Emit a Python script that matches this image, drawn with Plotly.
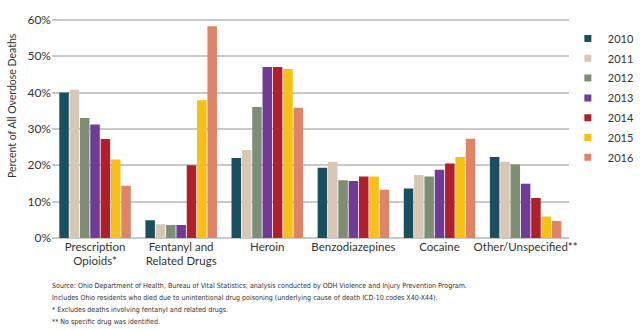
import plotly.graph_objects as go

categories = ["Prescription<br>Opioids*", "Fentanyl and<br>Related Drugs", "Heroin",
              "Benzodiazepines", "Cocaine", "Other/Unspecified**"]
years = ["2010", "2011", "2012", "2013", "2014", "2015", "2016"]
values = {
    "2010": [40.0, 4.9, 22.0, 19.3, 13.6, 22.3],
    "2011": [40.8, 3.8, 24.2, 20.9, 17.3, 21.0],
    "2012": [33.0, 3.6, 36.0, 15.9, 16.9, 20.2],
    "2013": [31.2, 3.6, 47.0, 15.7, 18.8, 14.9],
    "2014": [27.2, 20.0, 47.0, 16.9, 20.5, 11.0],
    "2015": [21.6, 37.9, 46.5, 16.9, 22.3, 5.9],
    "2016": [14.4, 58.2, 35.8, 13.3, 27.3, 4.7],
}
colors = ["#1a4f5f", "#d8c7b6", "#7d8e75", "#6f3b97", "#b01f2a", "#f8bf14", "#df8467"]
yticks = [0, 10, 20, 30, 40, 50, 60]
ytick_labels = ["0%", "10%", "20%", "30%", "40%", "50%", "60%"]
footnotes = [
    "Source: Ohio Department of Health, Bureau of Vital Statistics; analysis conducted by ODH Violence and Injury Prevention Program.",
    "Includes Ohio residents who died due to unintentional drug poisoning (underlying cause of death ICD-10 codes X40-X44).",
    "* Excludes deaths involving fentanyl and related drugs.",
    "** No specific drug was identified.",
]

fig = go.Figure()
for i, y in enumerate(years):
    fig.add_trace(go.Bar(
        x=categories, y=values[y], name=y,
        marker=dict(color=colors[i], line=dict(width=0)),
        showlegend=False,
    ))
# legend entries with small square swatches
for i, y in enumerate(years):
    fig.add_trace(go.Scatter(
        x=[None], y=[None], name=y, mode="markers",
        marker=dict(symbol="square", size=7, color=colors[i]),
        legendgroup=y, showlegend=True,
    ))

font_main = "Lato, 'Open Sans', sans-serif"
plot_top, plot_bottom = 18, 238
plot_h = plot_bottom - plot_top
fig.update_layout(
    width=640, height=330,
    margin=dict(l=52, r=0, t=plot_top, b=330 - plot_bottom),
    paper_bgcolor="white", plot_bgcolor="white",
    barmode="group", bargap=0.16, bargroupgap=0.08,
    font=dict(family=font_main, size=12, color="#333333"),
    showlegend=True,
    legend=dict(x=0.905, xanchor="left", y=1 - (24 - plot_top) / plot_h, yanchor="top",
                font=dict(size=11, color="#333333"), traceorder="grouped",
                tracegroupgap=0.8, itemwidth=30, bgcolor="rgba(0,0,0,0)"),
    xaxis=dict(domain=[0, 533 / 588], showgrid=False, showline=False, ticks="",
               tickfont=dict(size=11.5, color="#333333"), automargin=False),
    yaxis=dict(range=[0, 60.5], tickvals=yticks, ticktext=ytick_labels,
               showgrid=True, gridcolor="#c9c9c9", gridwidth=1.5,
               zeroline=True, zerolinecolor="#c9c9c9", zerolinewidth=1.5,
               showline=False, ticks="", tickfont=dict(size=12, color="#333333"),
               automargin=False),
)

fig.add_annotation(text="Percent of All Overdose Deaths", textangle=-90,
                   xref="paper", yref="paper", x=-0.07, y=(plot_bottom - 106) / plot_h,
                   xanchor="center", yanchor="middle", showarrow=False,
                   font=dict(size=10.5, color="#333333"))

foot_y = [285, 297, 309, 321]
for j, line in enumerate(footnotes):
    fig.add_annotation(text=line, xref="paper", yref="paper",
                       x=-0.003, y=(plot_bottom - foot_y[j]) / plot_h,
                       xanchor="left", yanchor="middle", showarrow=False,
                       font=dict(size=7.05, family="'DejaVu Sans Condensed'",
                                 color="#333333"))

fig.write_html("out.html")
